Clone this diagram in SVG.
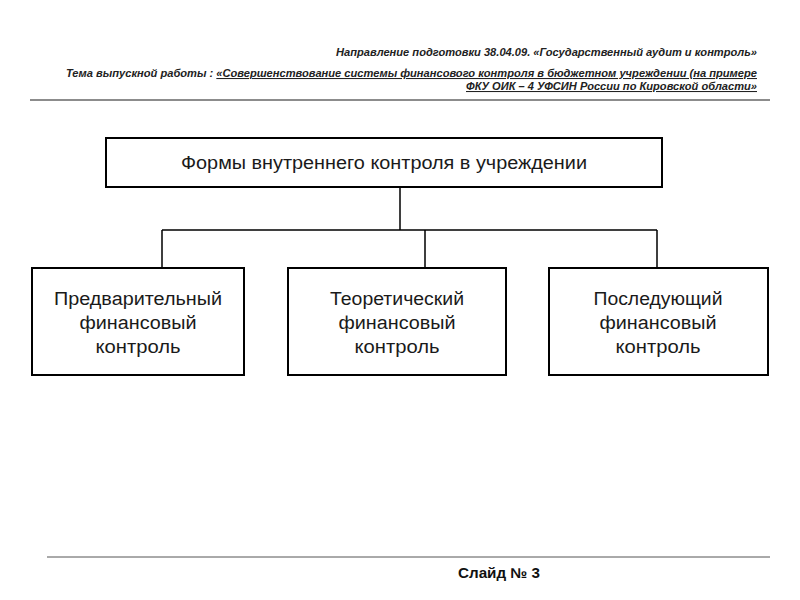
<svg xmlns="http://www.w3.org/2000/svg" width="800" height="600" viewBox="0 0 800 600">
<style>
.box{fill:#fff;stroke:#000;stroke-width:2}
.lbl{font-family:"Liberation Sans",Arial,sans-serif;font-size:18px;fill:#1a1a1a;text-anchor:middle}
.hdr{font-family:"Liberation Sans Narrow","Liberation Sans",Arial,sans-serif;font-size:10.5px;font-style:italic;font-weight:bold;fill:#222}
.conn{stroke:#000;stroke-width:1.5;fill:none}
</style>
<rect width="800" height="600" fill="#fff"/>
<g id="header">
<text class="hdr" x="757" y="56" text-anchor="end" textLength="421" lengthAdjust="spacingAndGlyphs">Направление подготовки  38.04.09. «Государственный аудит и контроль»</text>
<text class="hdr" x="757" y="77" text-anchor="end" textLength="691" lengthAdjust="spacingAndGlyphs">Тема выпускной работы : <tspan text-decoration="underline">«Совершенствование системы финансового контроля в бюджетном учреждении (на примере</tspan></text>
<text class="hdr" x="757" y="90" text-anchor="end" text-decoration="underline" textLength="291" lengthAdjust="spacingAndGlyphs">ФКУ ОИК – 4 УФСИН России по Кировской области»</text>
<line x1="30" y1="100" x2="770" y2="100" stroke="#666" stroke-width="1.5"/>
</g>
<g id="connectors">
<path class="conn" d="M400 187 V230 M162 230 H657 M162 230 V268 M425 230 V268 M657 230 V268"/>
</g>
<g id="root">
<rect class="box" x="106" y="138" width="556" height="49"/>
<text class="lbl" x="384" y="169" textLength="406" lengthAdjust="spacingAndGlyphs">Формы внутреннего контроля в учреждении</text>
</g>
<g id="pre">
<rect class="box" x="32" y="268" width="212" height="107"/>
<text class="lbl" x="138" y="305" textLength="168" lengthAdjust="spacingAndGlyphs">Предварительный</text>
<text class="lbl" x="138" y="329" textLength="117" lengthAdjust="spacingAndGlyphs">финансовый</text>
<text class="lbl" x="138" y="353" textLength="85" lengthAdjust="spacingAndGlyphs">контроль</text>
</g>
<g id="theor">
<rect class="box" x="288" y="268" width="218" height="107"/>
<text class="lbl" x="397" y="305" textLength="134" lengthAdjust="spacingAndGlyphs">Теоретический</text>
<text class="lbl" x="397" y="329" textLength="117" lengthAdjust="spacingAndGlyphs">финансовый</text>
<text class="lbl" x="397" y="353" textLength="85" lengthAdjust="spacingAndGlyphs">контроль</text>
</g>
<g id="post">
<rect class="box" x="549" y="268" width="219" height="107"/>
<text class="lbl" x="658" y="305" textLength="129" lengthAdjust="spacingAndGlyphs">Последующий</text>
<text class="lbl" x="658" y="329" textLength="117" lengthAdjust="spacingAndGlyphs">финансовый</text>
<text class="lbl" x="658" y="353" textLength="85" lengthAdjust="spacingAndGlyphs">контроль</text>
</g>
<g id="footer">
<line x1="47" y1="557" x2="770" y2="557" stroke="#555" stroke-width="1"/>
<text x="458" y="578" font-family="'Liberation Sans Narrow','Liberation Sans',Arial,sans-serif" font-size="14" font-weight="bold" fill="#111" textLength="82" lengthAdjust="spacingAndGlyphs">Слайд № 3</text>
</g>
</svg>
